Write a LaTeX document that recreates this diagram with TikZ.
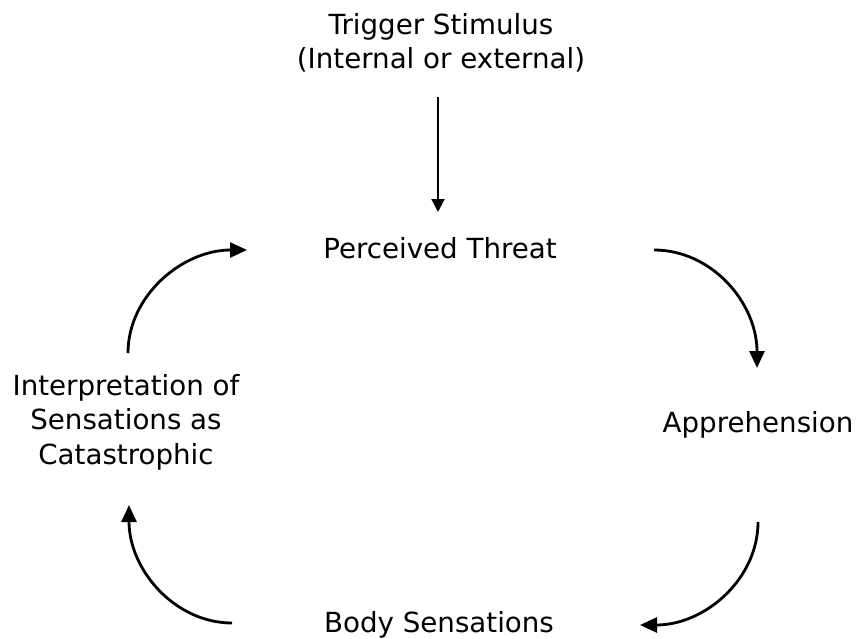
\documentclass[tikz,border=0pt]{standalone}
\usepackage{fontspec}
\setmainfont{DejaVu Sans}
\usetikzlibrary{arrows.meta}
\tikzset{
  lbl/.style={align=center, inner sep=0pt, font=\fontsize{27.7pt}{34.5pt}\selectfont},
  cyc/.style={line width=2.8pt, -{Triangle[length=17pt,width=15pt]}},
  feed/.style={line width=2.2pt, -{Triangle[length=13pt,width=13pt]}}
}
\begin{document}
\begin{tikzpicture}[x=1pt,y=-1pt]
\useasboundingbox (0,0) rectangle (856,639);
\node[lbl] (trig) at (441,43) {Trigger Stimulus\\(Internal or external)};
\node[lbl] (threat) at (440,248) {Perceived Threat};
\node[lbl] (appr) at (758,425) {Apprehension};
\node[lbl] (body) at (439,625) {Body Sensations};
\node[lbl] (interp) at (126,422) {Interpretation of\\Sensations as\\Catastrophic};
% connector ends
\coordinate (t1) at (438,97);
\coordinate (t2) at (438,212);
\coordinate (a1) at (654,250);
\coordinate (a2) at (757,368);
\coordinate (b1) at (758,522);
\coordinate (b2) at (640,625);
\coordinate (c1) at (232,623);
\coordinate (c2) at (129,505);
\coordinate (d1) at (128,353);
\coordinate (d2) at (247,250);
\draw[feed] (t1) -- (t2);
\draw[cyc] (a1) .. controls +(58,0) and +(0,-65) .. (a2);
\draw[cyc] (b1) .. controls +(0,57) and +(65,0) .. (b2);
\draw[cyc] (c1) .. controls +(-57,0) and +(0,65) .. (c2);
\draw[cyc] (d1) .. controls +(0,-57) and +(-65,0) .. (d2);
\end{tikzpicture}
\end{document}
